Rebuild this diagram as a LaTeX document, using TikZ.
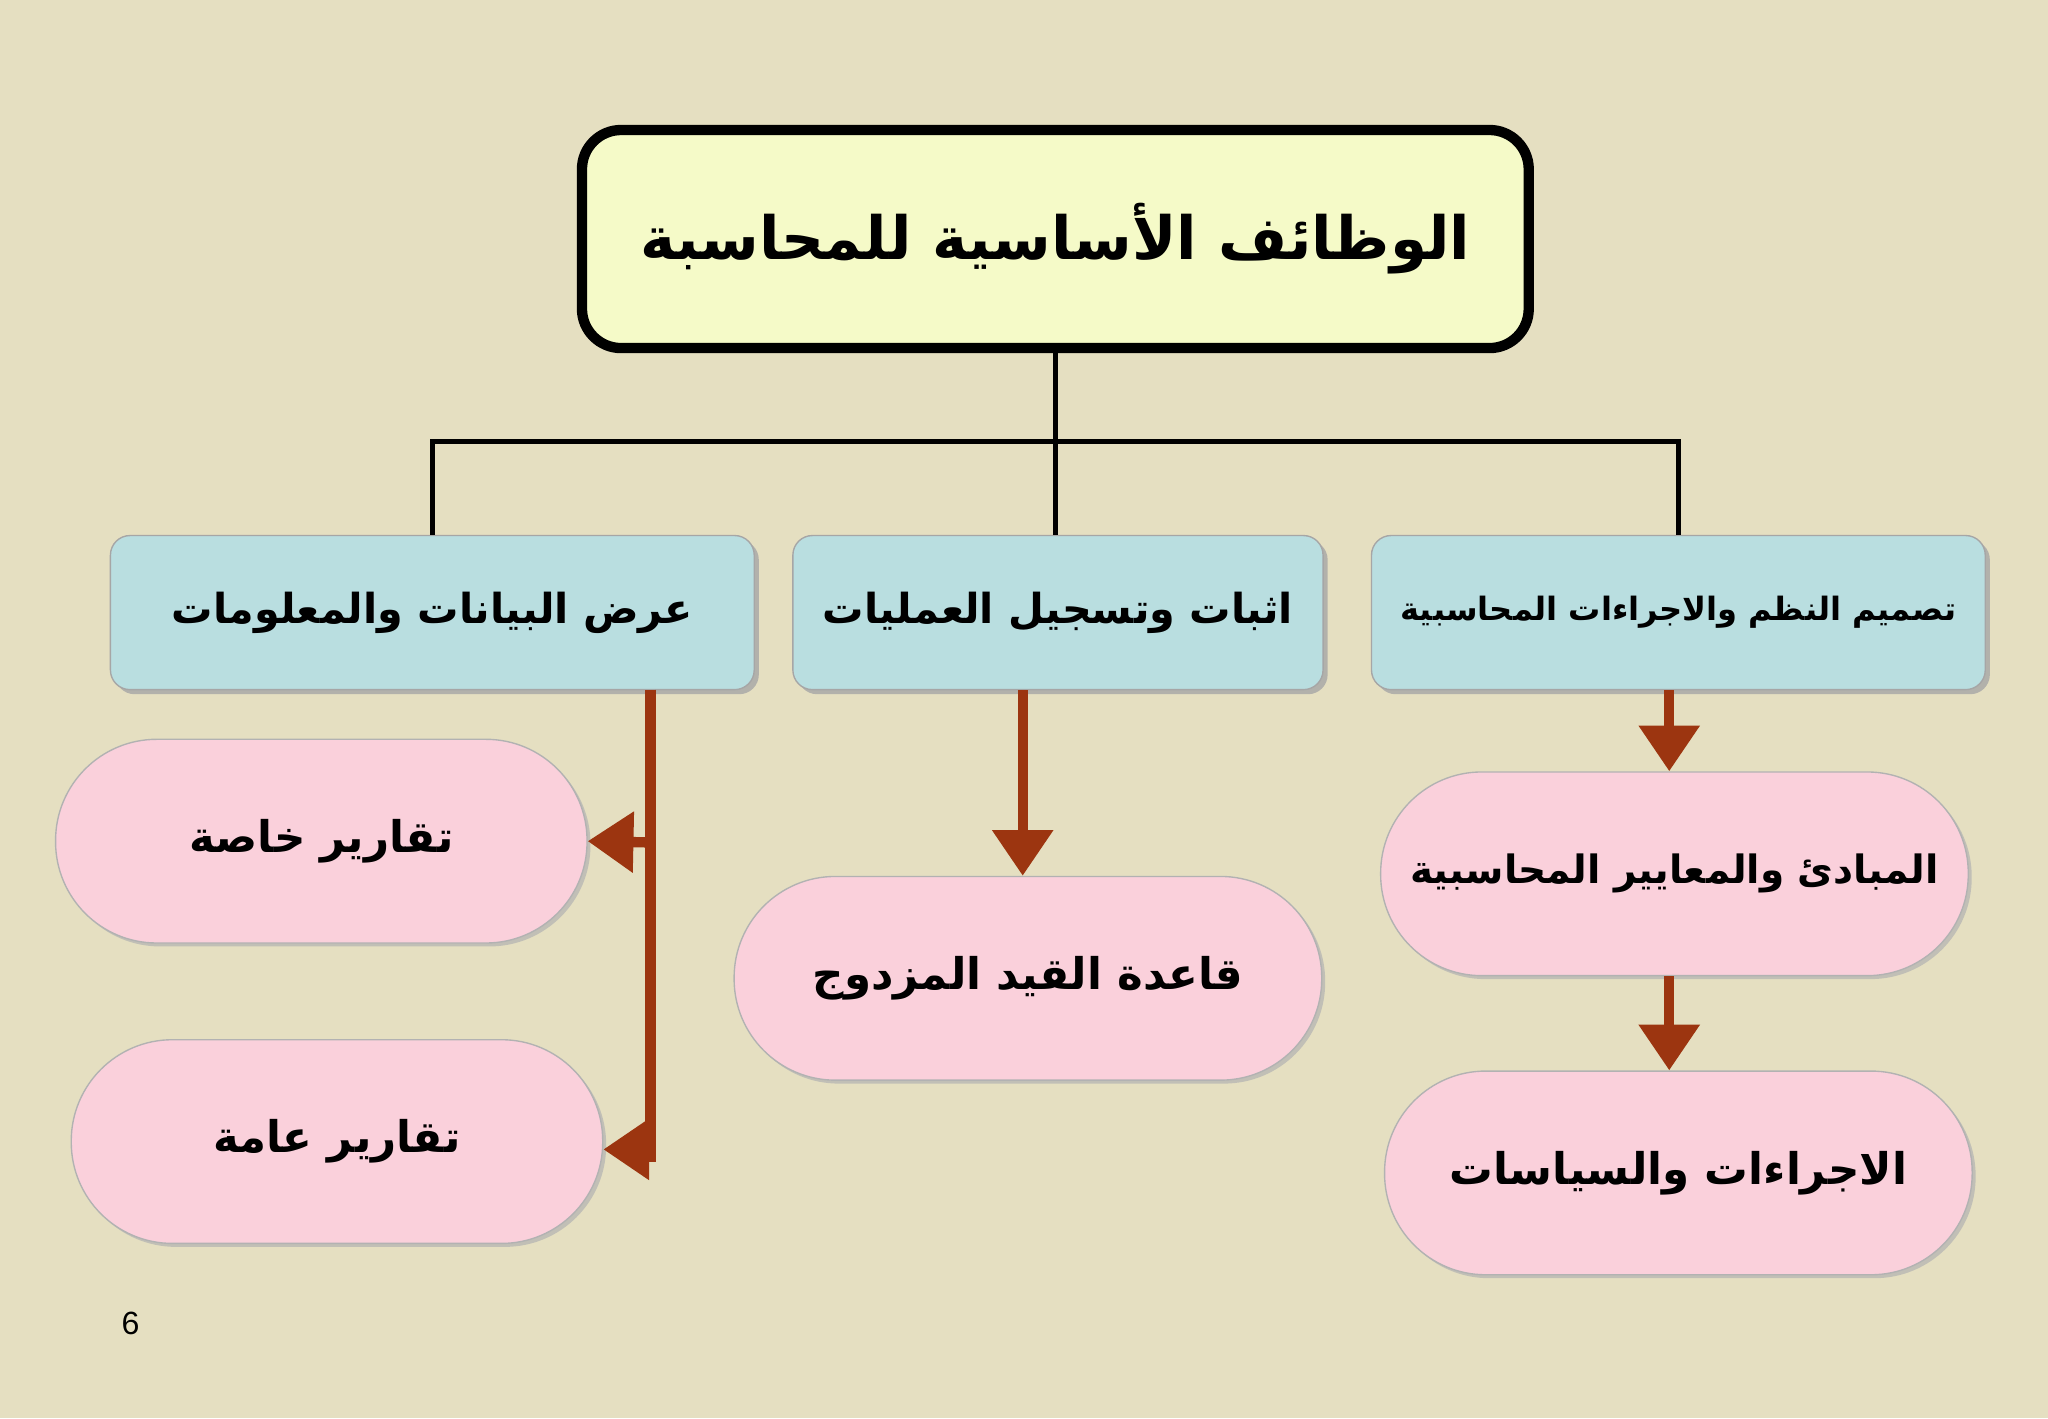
\documentclass[tikz,border=0pt]{standalone}
\usepackage{fontspec}
\usetikzlibrary{arrows.meta,shadows}
\TeXXeTstate=1
\newfontfamily\arabicfont[Script=Arabic]{DejaVu Sans}
\setmainfont{Liberation Sans}
\definecolor{bg}{HTML}{E5DFC1}
\definecolor{titlefill}{HTML}{F5FAC8}
\definecolor{bluefill}{HTML}{B9DEE0}
\definecolor{pinkfill}{HTML}{FAD0DB}
\definecolor{brownc}{HTML}{9C3510}
\tikzset{
  titlebox/.style={draw=black,line width=4.5pt,rounded corners=0.6cm,fill=titlefill,minimum width=14.5cm,minimum height=3.34cm,font=\arabicfont\bfseries\fontsize{26}{30}\selectfont},
  bluebox/.style={draw=gray!70,line width=0.6pt,rounded corners=0.3cm,fill=bluefill,minimum height=2.36cm,drop shadow={shadow xshift=2pt,shadow yshift=-2pt,fill=gray!70,opacity=0.8},font=\arabicfont\bfseries\fontsize{18}{22}\selectfont},
  pill/.style={draw=gray!60,line width=0.6pt,rounded corners=1.55cm,fill=pinkfill,minimum height=3.12cm,drop shadow={shadow xshift=1.5pt,shadow yshift=-1.5pt,fill=gray!60,opacity=0.7},font=\arabicfont\bfseries\fontsize{19}{23}\selectfont},
  blackline/.style={draw=black,line width=2.2pt},
  brownline/.style={draw=brownc,line width=4.5pt},
  brownarrow/.style={draw=brownc,line width=4.5pt,-{Triangle[length=0.7cm,width=0.9cm]}}
}
\begin{document}
\begin{tikzpicture}[x=0.02cm,y=-0.02cm]
\fill[bg] (0,0) rectangle (1568,1086);
\useasboundingbox (0,0) rectangle (1568,1086);
\node[titlebox] (T) at (808,183) {\beginR الوظائف الأساسية للمحاسبة\endR};
\node[bluebox,minimum width=9.86cm] (B1) at (331,469) {\beginR عرض البيانات والمعلومات\endR};
\node[bluebox,minimum width=8.12cm] (B2) at (810,469) {\beginR اثبات وتسجيل العمليات\endR};
\node[bluebox,minimum width=9.4cm,font=\arabicfont\bfseries\fontsize{14}{18}\selectfont] (B3) at (1285,469) {\beginR تصميم النظم والاجراءات المحاسبية\endR};
\node[pill,minimum width=8.14cm] (P1) at (246,644) {\beginR تقارير خاصة\endR};
\node[pill,minimum width=8.14cm] (P2) at (258,874) {\beginR تقارير عامة\endR};
\node[pill,minimum width=9cm] (P3) at (787,749) {\beginR قاعدة القيد المزدوج\endR};
\node[pill,minimum width=9cm,font=\arabicfont\bfseries\fontsize{17}{21}\selectfont] (P4) at (1282,669) {\beginR المبادئ والمعايير المحاسبية\endR};
\node[pill,minimum width=9cm] (P5) at (1285,898) {\beginR الاجراءات والسياسات\endR};
\coordinate (J) at (808,338);
\draw[blackline] (T.south) -- (J);
\draw[blackline] (J) -| (B1.north);
\draw[blackline] (J) -| (B3.north);
\draw[blackline] (J) -- (J |- B2.north);
\coordinate (L1) at (498,528);
\coordinate (L2) at (498,890);
\coordinate (A1) at (498,645);
\coordinate (A2) at (498,880);
\draw[brownline] (L1) -- (L2);
\draw[brownarrow] (A1) -- (P1.east);
\draw[brownarrow] (A2) -- (P2.east |- A2);
\draw[brownarrow] (B2.south -| 783,0) -- (P3.north -| 783,0);
\draw[brownarrow] (B3.south -| 1278,0) -- (P4.north -| 1278,0);
\draw[brownarrow] (P4.south -| 1278,0) -- (P5.north -| 1278,0);
\node[font=\fontsize{14}{16}\selectfont] (N) at (100,1013) {6};
\end{tikzpicture}
\end{document}
